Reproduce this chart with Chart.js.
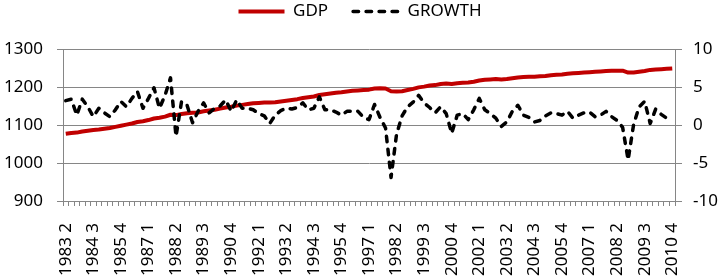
<!DOCTYPE html>
<html><head><meta charset="utf-8">
<script src="https://cdn.jsdelivr.net/npm/chart.js@4/dist/chart.umd.min.js"></script>
<style>html,body{margin:0;padding:0;background:#fff;overflow:hidden}#wrap{width:720px;height:277px;position:relative}</style>
</head><body><div id="wrap"><canvas id="c" width="720" height="277"></canvas></div>
<script>
// ---- data ----
const firstYear = 1983, firstQuarter = 2, quarterCount = 111;
const categories = [];
for (let i = 0; i < quarterCount; i++) {
  const q0 = firstQuarter - 1 + i;
  categories.push((firstYear + Math.floor(q0 / 4)) + ' ' + (q0 % 4 + 1));
}
const gdp = [
  1077,1079,1080,1083,1085,1087,1088,1090,1092,1095,1098,1101,
  1104,1108,1110,1113,1117,1119,1122,1127,
  1126,1129,1131,1132,1133,1136,1138,1140,1143,
  1146,1148,1151,1153,1155,1157,1158,1159,1159,1160,1162,
  1164,1166,1168,1171,1173,1175,1179,1181,1183,1185,1186,1188,
  1190,1191,1192,1193,1196,1197,1196,
  1189,1188,1189,1192,1195,1199,
  1201,1204,1205,1208,1209,1208,
  1210,1211,1212,1214,1217,1219,
  1220,1221,1220,1221,1223,1225,
  1226,1227,1227,1228,1229,1231,
  1232,1233,1235,1236,1237,1238,
  1239,1240,1241,1242,1243,1243,
  1243,1238,1238,1240,1242,1245,1246,1247,1248,1249
];
const growth = [
  3.2, 3.4, 1.3, 3.4, 2.4, 1.1, 2.2, 1.6, 1.1, 2.0,
  3.1, 2.4, 3.5, 4.4, 2.2, 3.5, 4.9, 2.2, 3.9, 6.2,
  -1.5, 3.1, 2.6, 0.3, 1.8, 2.9, 1.6, 2.2, 2.5, 3.3,
  1.8, 3.3, 2.2, 2.2, 2.0, 1.5, 1.2, 0.2, 1.3, 1.9,
  2.2, 2.1, 2.3, 2.9, 2.0, 2.2, 3.7, 2.0, 2.0, 1.7,
  1.3, 1.8, 1.8, 1.8, 1.0, 0.7, 2.7, 1.0, -0.4, -6.9,
  -1.2, 1.2, 2.4, 3.0, 3.9, 2.9, 2.3, 1.6, 2.4, 1.5,
  -1.1, 1.3, 1.5, 0.7, 2.0, 3.5, 2.0, 1.5, 0.9, -0.2,
  0.4, 1.8, 2.6, 1.3, 1.0, 0.4, 0.6, 1.2, 1.6, 1.5,
  1.3, 1.8, 0.9, 1.3, 1.6, 1.7, 1.1, 1.3, 1.8, 1.1,
  0.6, -0.3, -4.6, 0.1, 2.4, 3.1, 0.2, 2.1, 1.4, 0.9, 0.6
];
const leftTicks = [900, 1000, 1100, 1200, 1300];
const rightTicks = [-10, -5, 0, 5, 10];
const labelEvery = 5;
const seriesNames = ['GDP', 'GROWTH'];

// ---- styles ----
const RED = '#C00000', BLACK = '#000000', GRID = '#868686';
const DASH = [5.5, 7.5];
Chart.defaults.font.family = "'Noto Sans', sans-serif";
Chart.defaults.font.size = 17;
Chart.defaults.color = '#000';

const legendSpace = {
  id: 'legendSpace',
  afterInit(chart) {
    const lg = chart.legend;
    const fit = lg.fit;
    lg.fit = function () { fit.call(this); this.height = 71; };
  }
};

new Chart(document.getElementById('c'), {
  type: 'line',
  data: {
    labels: categories,
    datasets: [
      { label: seriesNames[0], data: gdp, yAxisID: 'y', borderColor: RED, backgroundColor: RED,
        borderWidth: 4, borderJoinStyle: 'round', pointRadius: 0, tension: 0, order: 1 },
      { label: seriesNames[1], data: growth, yAxisID: 'y1', borderColor: BLACK, backgroundColor: BLACK,
        borderWidth: 3.5, borderDash: DASH, borderCapStyle: 'round', borderJoinStyle: 'round',
        pointRadius: 0, tension: 0, order: 0 }
    ]
  },
  options: {
    responsive: false, animation: false, devicePixelRatio: 1,
    layout: { padding: { top: -22, left: 0, right: 0, bottom: 0 } },
    plugins: {
      tooltip: { enabled: false },
      legend: {
        position: 'top', align: 'center',
        labels: {
          usePointStyle: true, pointStyleWidth: 46, boxWidth: 46, padding: 25,
          font: { size: 17 }, color: '#000',
          generateLabels: () => [
            { text: seriesNames[0], pointStyle: 'line', strokeStyle: RED, fillStyle: RED, lineWidth: 4, lineDash: [], lineCap: 'butt', datasetIndex: 0 },
            { text: seriesNames[1], pointStyle: 'line', strokeStyle: BLACK, fillStyle: BLACK, lineWidth: 3.5, lineDash: DASH, lineCap: 'round', datasetIndex: 1 }
          ]
        }
      }
    },
    scales: {
      x: {
        type: 'category', offset: true,
        grid: { offset: true, drawOnChartArea: false, drawTicks: true, tickLength: 5, color: GRID, lineWidth: 1 },
        border: { display: true, color: GRID, width: 1 },
        ticks: {
          autoSkip: false, maxRotation: 90, minRotation: 90, padding: 17,
          callback: function (v, i) { return i % labelEvery === 0 ? categories[i] : ''; }
        },
        afterFit: s => { s.height = 76; }
      },
      y: {
        position: 'left', min: leftTicks[0], max: leftTicks[leftTicks.length - 1],
        afterBuildTicks: s => { s.ticks = leftTicks.map(v => ({ value: v })); },
        grid: { color: GRID, lineWidth: 1, tickLength: 6, drawTicks: true },
        border: { display: true, color: GRID, width: 1 },
        ticks: { padding: 14, callback: v => String(v) },
        afterFit: s => { s.width = 63; }
      },
      y1: {
        position: 'right', min: rightTicks[0], max: rightTicks[rightTicks.length - 1],
        afterBuildTicks: s => { s.ticks = rightTicks.map(v => ({ value: v })); },
        grid: { drawOnChartArea: false, color: GRID, lineWidth: 1, tickLength: 7, drawTicks: true },
        border: { display: true, color: GRID, width: 1 },
        ticks: { padding: 11, callback: v => String(v) },
        afterFit: s => { s.width = 45; }
      }
    }
  },
  plugins: [legendSpace]
});
</script>
</body></html>
